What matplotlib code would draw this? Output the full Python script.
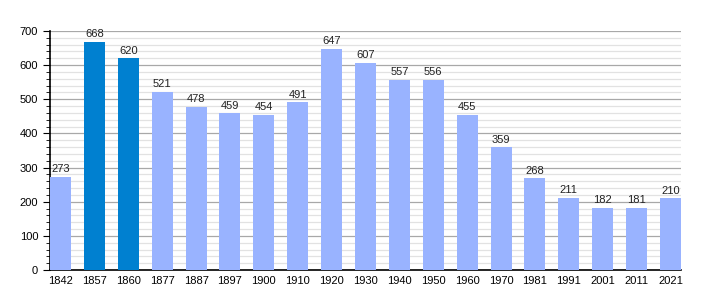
import numpy as np
import matplotlib
matplotlib.use('Agg')
import matplotlib.pyplot as plt
from matplotlib.ticker import MultipleLocator

years = ['1842', '1857', '1860', '1877', '1887', '1897', '1900', '1910', '1920', '1930',
         '1940', '1950', '1960', '1970', '1981', '1991', '2001', '2011', '2021']
population = [273, 668, 620, 521, 478, 459, 454, 491, 647, 607,
              557, 556, 455, 359, 268, 211, 182, 181, 210]
highlight = ['1857', '1860']

plt.rcParams['font.family'] = ['Liberation Sans', 'DejaVu Sans']

fig = plt.figure(figsize=(7.1, 3.0), dpi=100)
ax = fig.add_axes([50 / 710, 30 / 300, 631 / 710, 239 / 300])

x = np.arange(len(years))
colors = ['#0080d0' if y in highlight else '#99b3ff' for y in years]
ax.bar(x, population, width=0.62, color=colors, zorder=3)

for xi, v in zip(x, population):
    ax.text(xi, v + 8, str(v), ha='center', va='bottom', fontsize=8, color='#222222', zorder=4)

ax.set_xlim(-0.31, len(years) - 0.69)
ax.set_ylim(0, 700)
ax.set_xticks(x)
ax.set_xticklabels(years)
ax.yaxis.set_major_locator(MultipleLocator(100))
ax.yaxis.set_minor_locator(MultipleLocator(20))
ax.grid(axis='y', which='major', color='#a8a8a8', linewidth=0.9, zorder=0)
ax.grid(axis='y', which='minor', color='#e2e2e2', linewidth=0.9, zorder=0)

for s in ['top', 'right']:
    ax.spines[s].set_visible(False)
ax.spines['left'].set_linewidth(1.2)
ax.spines['bottom'].set_linewidth(1.2)
ax.tick_params(axis='x', length=0, labelsize=8, pad=4)
ax.tick_params(axis='y', which='major', length=5, labelsize=8)
ax.tick_params(axis='y', which='minor', length=3)

fig.savefig('out.png', dpi=100)
